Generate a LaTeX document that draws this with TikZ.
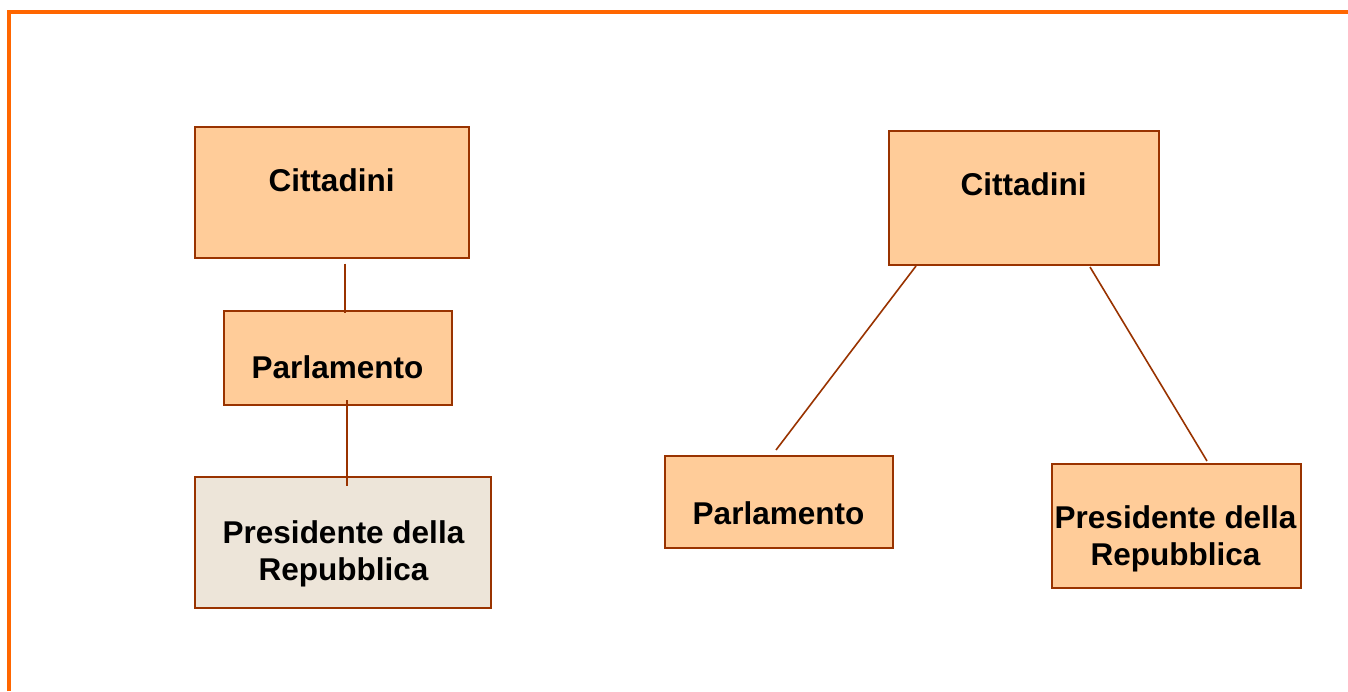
\documentclass[tikz,border=0pt]{standalone}
\usepackage{fontspec}
\setmainfont{Liberation Sans}
\definecolor{frameorange}{HTML}{FF6600}
\definecolor{boxline}{HTML}{993300}
\definecolor{boxfill}{HTML}{FFCC99}
\definecolor{greyfill}{HTML}{EDE5D9}
\begin{document}
\begin{tikzpicture}[x=1pt,y=-1pt,
  box/.style={draw=boxline, line width=2pt, fill=boxfill, rectangle, inner sep=0pt, outer sep=0pt},
  lbl/.style={font=\fontsize{31.5}{37}\selectfont\bfseries, inner sep=0pt, align=center, anchor=base},
  conn/.style={draw=boxline, line width=1.6pt}]
\useasboundingbox (0,0) rectangle (1348,691);
\fill[white] (0,0) rectangle (1348,691);
% frame
\draw[frameorange, line width=4pt] (9,691) -- (9,12) -- (1348,12);
% left diagram
\node[box, minimum width=274pt, minimum height=131pt] (Lc) at (331.5,192) {};
\node[box, minimum width=228pt, minimum height=94pt] (Lp) at (337.5,357.5) {};
\node[box, fill=greyfill, minimum width=296pt, minimum height=131pt] (Lr) at (342.5,542) {};
\node[lbl] (Lct) at (331.5,191) {Cittadini};
\node[lbl] (Lpt) at (337.5,378) {Parlamento};
\node[lbl] (Lrt) at (343.5,580) {Presidente della\\Repubblica};
% right diagram
\node[box, minimum width=270pt, minimum height=134pt] (Rc) at (1023.5,197.5) {};
\node[box, minimum width=228pt, minimum height=92pt] (Rp) at (778.5,501.5) {};
\node[box, minimum width=249pt, minimum height=124pt] (Rr) at (1176,525.5) {};
\node[lbl] (Rct) at (1023.5,195) {Cittadini};
\node[lbl] (Rpt) at (778.5,524) {Parlamento};
\node[lbl] (Rrt) at (1175.5,565) {Presidente della\\Repubblica};
% connectors
\draw[conn] ([xshift=13.5pt,yshift=-6pt]Lc.south) -- ([xshift=7.5pt,yshift=-2.5pt]Lp.north);
\draw[conn] ([xshift=9.5pt,yshift=4.5pt]Lp.south) -- ([xshift=4.5pt,yshift=-9.5pt]Lr.north);
\draw[conn] ([xshift=27.5pt,yshift=-1.5pt]Rc.south west) -- ([xshift=-2.5pt,yshift=5.5pt]Rp.north);
\draw[conn] ([xshift=66.5pt,yshift=-2.5pt]Rc.south) -- ([xshift=31pt,yshift=2.5pt]Rr.north);
\end{tikzpicture}
\end{document}
